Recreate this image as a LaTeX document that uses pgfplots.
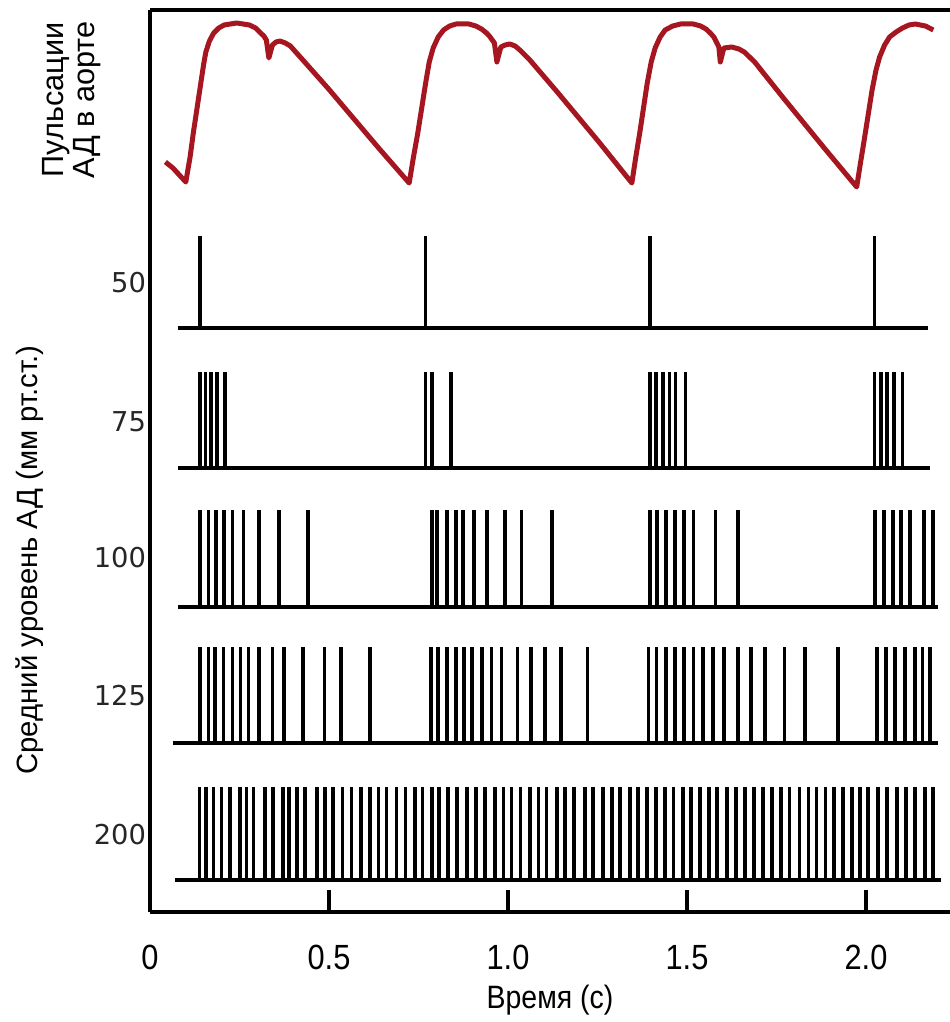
\documentclass[border=0pt]{standalone}
\usepackage{fontspec}
\setmainfont{Liberation Sans}
\newfontfamily\rowfont{DejaVu Sans}
\newfontfamily\narrowfont[FakeStretch=0.88]{Liberation Sans}
\usepackage{pgfplots}
\pgfplotsset{compat=1.18}
\definecolor{aorta}{RGB}{165,22,32}

% spike rows: points sit on the baseline, the error bar draws the spike
\pgfplotsset{
  spikes/.style={draw=none, mark=none,
    error bars/.cd, y dir=plus, y fixed=#1, error mark=none,
    error bar style={draw=black, solid, line width=1.1pt}},
  baseline/.style={black, line width=1.4pt, mark=none},
}

\begin{document}
\begin{tikzpicture}
\begin{axis}[
  name=main,
  scale only axis,
  width=240pt, height=270.6pt,
  xmin=0, xmax=2.2346, ymin=0, ymax=902,
  axis x line=box, axis y line=left,
  axis line style={-, line width=1pt},
  clip=false,
  tick align=inside,
  xtick pos=left,
  xtick={0,0.5,1,1.5,2},
  xticklabels={0,0.5,1.0,1.5,2.0},
  major tick length=6.6pt,
  xtick style={line width=1pt, black},
  xticklabel style={font=\narrowfont\fontsize{10.5}{12}\selectfont, yshift=-6.4pt},
  ytick={629,490,354,216,77},
  yticklabels={50,75,100,125,200},
  ytick style={draw=none},
  yticklabel style={font=\rowfont\fontsize{8.2}{10}\selectfont, text=black!85, anchor=east, inner sep=0pt, xshift=-1pt},
  /pgf/number format/assume math mode=true,
  xlabel={Время (с)},
  xlabel style={font=\narrowfont\fontsize{9.7}{11}\selectfont, at={(axis description cs:0.5,0)}, anchor=center, yshift=-26.4pt},
]
% aortic pressure pulse
\addplot[aorta, line width=1.5pt, line join=round, mark=none] coordinates {
 (0.043,750) (0.064,744) (0.100,730) (0.112,755) (0.121,779) (0.142,829) (0.150,848) (0.156,860)
 (0.166,871) (0.178,879) (0.192,884) (0.207,887) (0.242,889) (0.278,887) (0.295,884) (0.306,880)
 (0.318,876) (0.325,872) (0.332,854) (0.342,867) (0.352,870) (0.363,871) (0.378,869) (0.392,866)
 (0.427,852) (0.499,823) (0.570,793) (0.641,763) (0.724,729)
 (0.736,755) (0.748,779) (0.770,829) (0.780,850) (0.791,864) (0.805,875) (0.820,882) (0.837,886)
 (0.855,888) (0.891,888) (0.910,886) (0.926,883) (0.940,879) (0.948,876) (0.962,869) (0.969,850)
 (0.980,865) (0.992,867) (1.005,868) (1.020,866) (1.033,862) (1.061,852)
 (1.140,819) (1.254,770) (1.346,729)
 (1.357,755) (1.368,779) (1.389,829) (1.400,850) (1.411,864) (1.425,875) (1.439,882) (1.460,886)
 (1.482,888) (1.518,888) (1.538,886) (1.553,883) (1.565,879) (1.575,875) (1.589,865) (1.593,850)
 (1.603,864) (1.625,865) (1.645,863) (1.660,860) (1.689,850)
 (1.767,815) (1.881,765) (1.974,725)
 (1.985,750) (1.995,772) (2.017,822) (2.028,842) (2.038,855) (2.052,867) (2.066,875) (2.084,880)
 (2.102,884) (2.120,887) (2.138,888) (2.166,886) (2.188,882)
};

% 50 mm Hg
\addplot[baseline] coordinates {(0.078,584) (2.173,584)};
\addplot[spikes=92] coordinates {(0.140,584) (0.770,584) (1.397,584) (2.024,584)};

% 75 mm Hg
\addplot[baseline] coordinates {(0.078,444) (2.180,444)};
\addplot[spikes=96] coordinates {
 (0.140,444) (0.155,444) (0.170,444) (0.187,444) (0.209,444)
 (0.770,444) (0.788,444) (0.841,444)
 (1.397,444) (1.413,444) (1.433,444) (1.451,444) (1.468,444) (1.496,444)
 (2.024,444) (2.042,444) (2.059,444) (2.078,444) (2.102,444)};

% 100 mm Hg
\addplot[baseline] coordinates {(0.078,305) (2.201,305)};
\addplot[spikes=97] coordinates {
 (0.140,305) (0.163,305) (0.184,305) (0.207,305) (0.230,305) (0.261,305) (0.305,305) (0.360,305) (0.442,305)
 (0.787,305) (0.801,305) (0.830,305) (0.854,305) (0.875,305) (0.905,305) (0.942,305) (0.992,305) (1.038,305) (1.122,305)
 (1.397,305) (1.417,305) (1.441,305) (1.466,305) (1.492,305) (1.518,305) (1.580,305) (1.643,305)
 (2.025,305) (2.050,305) (2.075,305) (2.097,305) (2.123,305) (2.162,305) (2.188,305)};

% 125 mm Hg
\addplot[baseline] coordinates {(0.064,169) (2.201,169)};
\addplot[spikes=96] coordinates {
 (0.140,169) (0.163,169) (0.182,169) (0.205,169) (0.230,169) (0.253,169) (0.275,169)
 (0.305,169) (0.342,169) (0.375,169) (0.427,169) (0.487,169) (0.534,169) (0.615,169)
 (0.784,169) (0.805,169) (0.830,169) (0.854,169) (0.877,169) (0.900,169) (0.928,169)
 (0.954,169) (0.982,169) (1.027,169) (1.064,169) (1.103,169) (1.148,169) (1.222,169)
 (1.392,169) (1.415,169) (1.441,169) (1.466,169) (1.492,169) (1.518,169) (1.544,169) (1.572,169)
 (1.604,169) (1.643,169) (1.679,169) (1.718,169) (1.772,169) (1.830,169) (1.921,169)
 (2.030,169) (2.056,169) (2.081,169) (2.109,169) (2.137,169) (2.158,169) (2.179,169)};

% 200 mm Hg
\addplot[baseline] coordinates {(0.070,32) (2.209,32)};
\addplot[spikes=93] coordinates {
 (0.138,32) (0.156,32) (0.177,32) (0.200,32) (0.223,32) (0.251,32) (0.270,32) (0.289,32)
 (0.321,32) (0.344,32) (0.372,32) (0.389,32) (0.410,32) (0.433,32) (0.466,32) (0.489,32)
 (0.512,32) (0.538,32) (0.563,32) (0.589,32) (0.615,32) (0.638,32) (0.661,32) (0.689,32)
 (0.714,32) (0.740,32) (0.761,32) (0.787,32) (0.808,32) (0.833,32) (0.857,32) (0.885,32)
 (0.911,32) (0.936,32) (0.964,32) (0.987,32) (1.010,32) (1.035,32) (1.061,32) (1.085,32)
 (1.108,32) (1.136,32) (1.159,32) (1.184,32) (1.215,32) (1.238,32) (1.266,32) (1.290,32)
 (1.313,32) (1.341,32) (1.364,32) (1.389,32) (1.413,32) (1.439,32) (1.462,32) (1.488,32)
 (1.511,32) (1.536,32) (1.561,32) (1.583,32) (1.611,32) (1.637,32) (1.662,32) (1.687,32)
 (1.713,32) (1.738,32) (1.763,32) (1.786,32) (1.814,32) (1.839,32) (1.862,32) (1.887,32)
 (1.911,32) (1.935,32) (1.960,32) (1.983,32) (2.006,32) (2.034,32) (2.058,32) (2.086,32)
 (2.112,32) (2.137,32) (2.165,32) (2.188,32)};

% left-hand labels
\node[rotate=90, align=center, font=\fontsize{9.2}{6.6}\selectfont]
  at ([xshift=-23.4pt]axis cs:0,812) {Пульсации\\АД в аорте};
\node[rotate=90, font=\fontsize{8.8}{10}\selectfont]
  at ([xshift=-36pt]axis cs:0,352) {Средний уровень АД (мм рт.ст.)};
\end{axis}
\pgfresetboundingbox
\path ([shift={(-45pt,-33pt)}]main.south west) rectangle ([shift={(0pt,3pt)}]main.north east);
\end{tikzpicture}
\end{document}
